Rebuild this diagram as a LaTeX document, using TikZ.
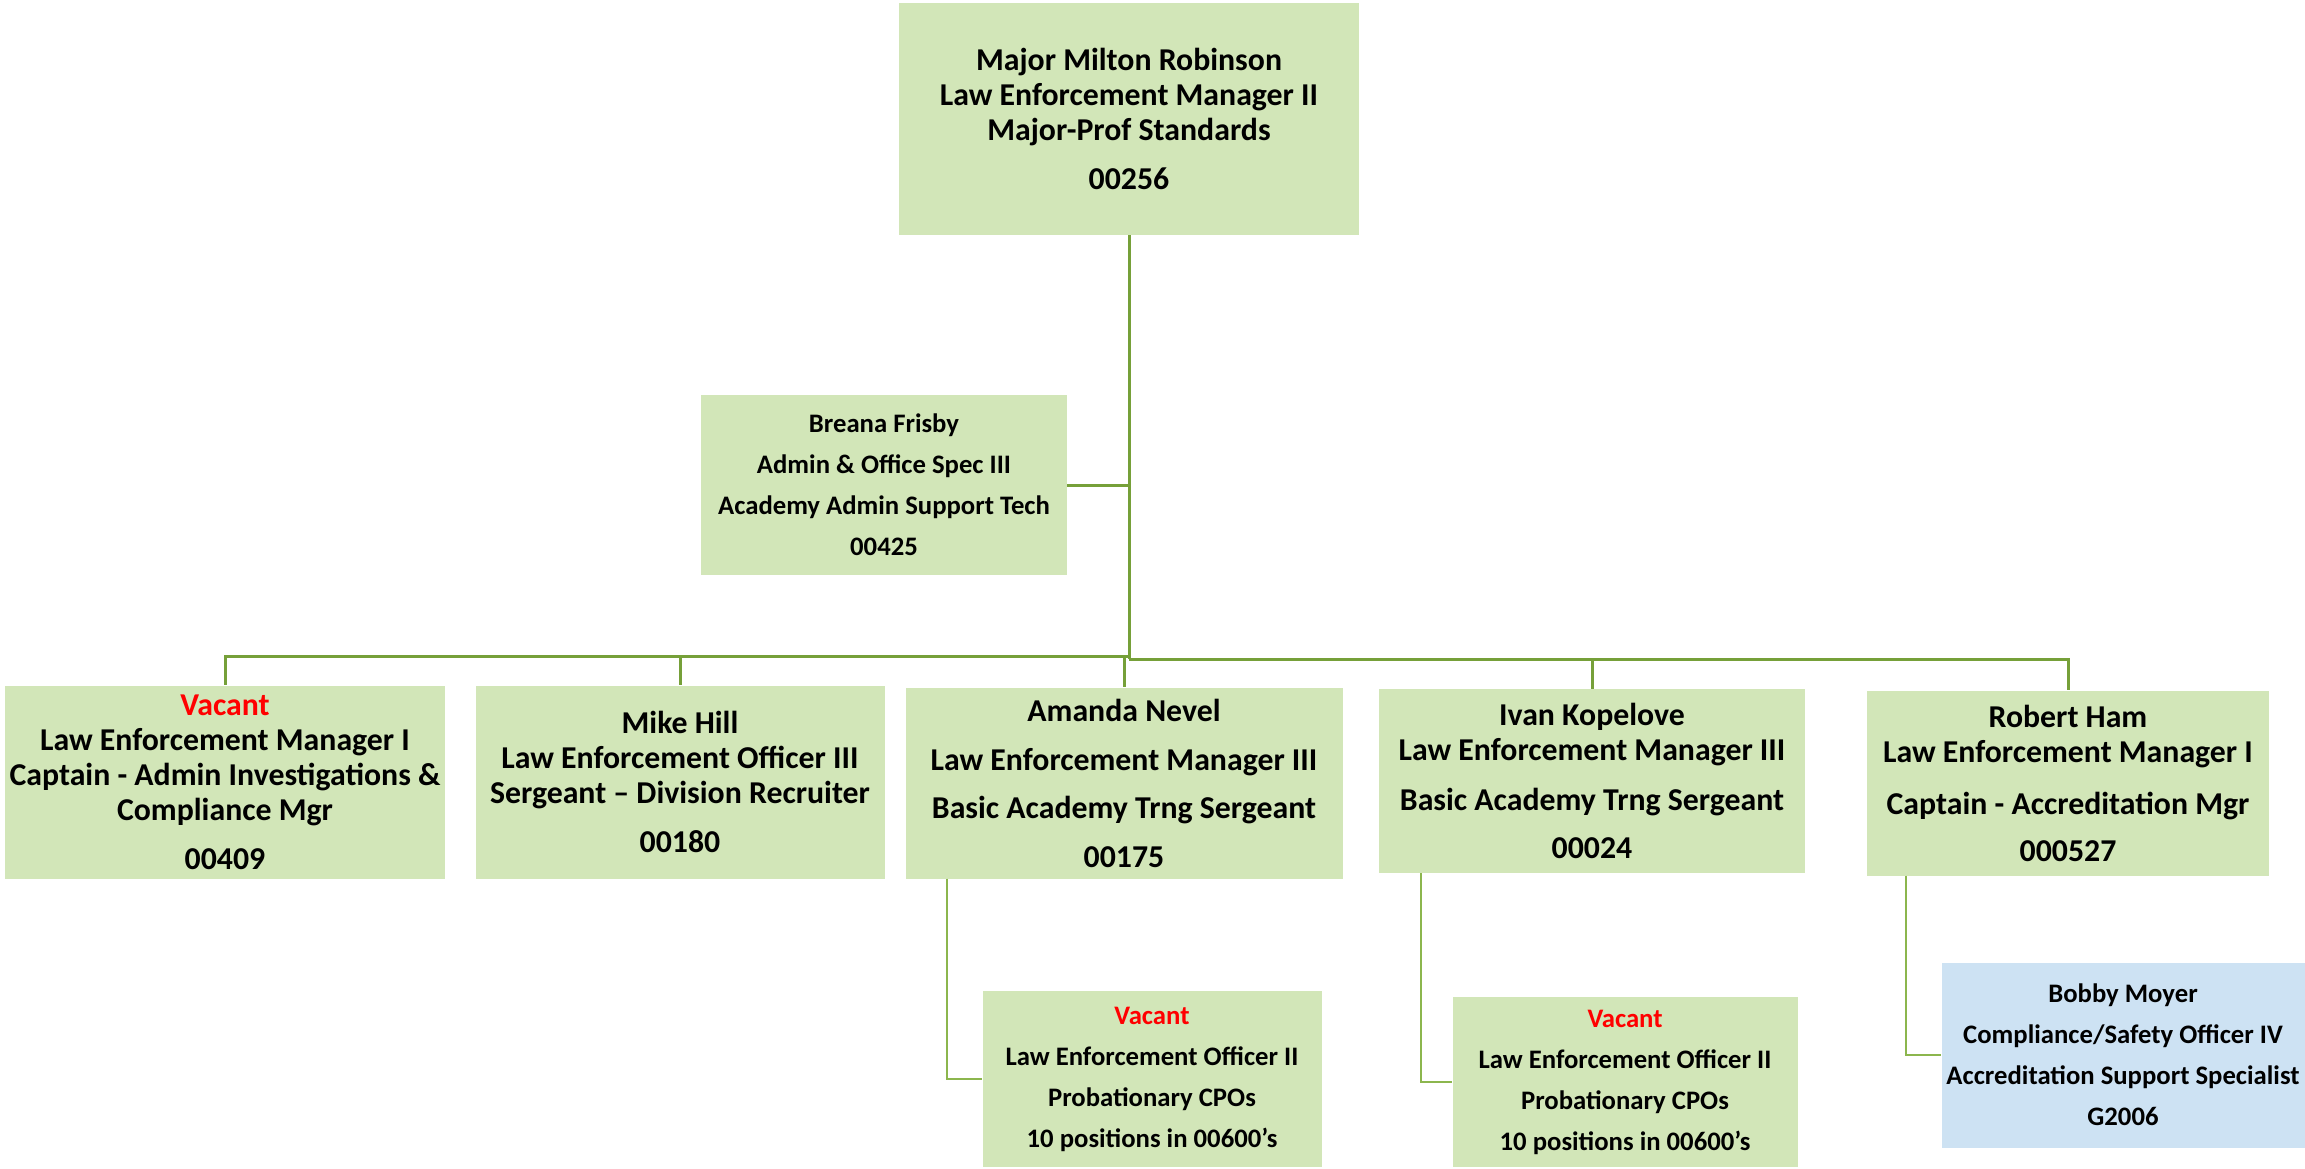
\documentclass[tikz,border=0pt]{standalone}
\usepackage{fontspec}
\setmainfont{Carlito}
\usepackage{xcolor}
\usepackage{tikz}
\usetikzlibrary{shapes}
\usetikzlibrary{positioning}
\usetikzlibrary{calc}
\definecolor{vert}{RGB}{210,230,184}
\definecolor{bleuclair}{RGB}{205,226,243}
\definecolor{lienvert}{RGB}{118,160,57}
\definecolor{lienclair}{RGB}{140,182,78}
\tikzstyle{grand}=[
        rectangle,
        fill=vert,
        inner sep=0pt,
        align=center,
        font=\bfseries\fontsize{31.8}{35}\selectfont
]
\tikzstyle{petit}=[
        rectangle,
        fill=vert,
        inner sep=0pt,
        align=center,
        font=\bfseries\fontsize{26.7}{41}\selectfont
]
\tikzstyle{bleu}=[petit,fill=bleuclair]
\tikzstyle{lien}=[draw=lienvert,line width=3pt]
\tikzstyle{lienfin}=[draw=lienclair,line width=2.5pt]

\begin{document}
\begin{tikzpicture}[x=1pt,y=-1pt]
\useasboundingbox (0,0) rectangle (2305,1168);
\node[grand,minimum width=460pt,minimum height=232pt] (top) at (1129,119) {Major Milton Robinson\\Law Enforcement Manager II\\Major-Prof Standards\\[14pt]00256};
\node[petit,minimum width=366pt,minimum height=180pt] (adm) at (884,485) {Breana Frisby\\Admin \& Office Spec III\\Academy Admin Support Tech\\00425};
\node[grand,minimum width=440pt,minimum height=193pt] (vac) at (225,782) {\textcolor{red}{Vacant}\\Law Enforcement Manager I\\Captain - Admin Investigations \&\\Compliance Mgr\\[14pt]00409};
\node[grand,minimum width=409pt,minimum height=193pt] (hill) at (680,782) {Mike Hill\\Law Enforcement Officer III\\Sergeant – Division Recruiter\\[14pt]00180};
\node[grand,minimum width=437pt,minimum height=191pt] (nevel) at (1124,783) {Amanda Nevel\\[14pt]Law Enforcement Manager III\\[13pt]Basic Academy Trng Sergeant\\[14pt]00175};
\node[grand,minimum width=426pt,minimum height=184pt] (kop) at (1592,781) {Ivan Kopelove\\Law Enforcement Manager III\\[15pt]Basic Academy Trng Sergeant\\[13pt]00024};
\node[grand,minimum width=402pt,minimum height=185pt] (ham) at (2068,783) {Robert Ham\\Law Enforcement Manager I\\[17pt]Captain - Accreditation Mgr\\[12pt]000527};
\node[petit,minimum width=339pt,minimum height=176pt] (vac1) at (1152,1079) {\textcolor{red}{Vacant}\\Law Enforcement Officer II\\Probationary CPOs\\10 positions in 00600’s};
\node[petit,minimum width=345pt,minimum height=170pt] (vac2) at (1625,1082) {\textcolor{red}{Vacant}\\Law Enforcement Officer II\\Probationary CPOs\\10 positions in 00600’s};
\node[bleu,minimum width=363pt,minimum height=185pt] (moyer) at (2123,1055) {Bobby Moyer\\Compliance/Safety Officer IV\\Accreditation Support Specialist\\G2006};
\coordinate (bus) at (1129,656);
\coordinate (busd) at (1129,659);
%Placementdesliens
\draw[lien] (top) -- (busd);
\draw[lien] (adm) -- (adm -| top);
\draw[lien] (bus) -| (vac);
\draw[lien] (bus) -| (hill);
\draw[lien] (bus) -| (nevel);
\draw[lien] (busd) -| (kop);
\draw[lien] (busd) -| (ham);

\draw[lienfin] ([xshift=-177pt]nevel.south) |- (vac1);
\draw[lienfin] ([xshift=-171pt]kop.south) |- (vac2);
\draw[lienfin] ([xshift=-162pt]ham.south) |- (moyer);
\end{tikzpicture}
\end{document}
